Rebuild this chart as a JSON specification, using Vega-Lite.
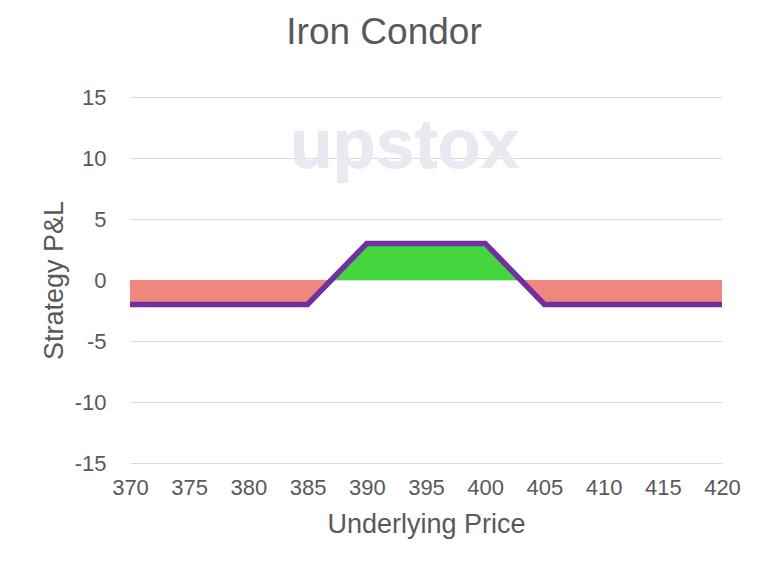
{
  "$schema": "https://vega.github.io/schema/vega-lite/v6.json",
  "width": 592,
  "height": 366,
  "autosize": {"type": "none"},
  "padding": {"left": 130, "top": 97, "right": 46, "bottom": 113},
  "background": "white",
  "config": {
    "font": "Liberation Sans",
    "view": {"stroke": null},
    "axis": {
      "domain": false,
      "ticks": false,
      "tickSize": 0,
      "grid": true,
      "gridColor": "#D9D9D9",
      "gridWidth": 1,
      "labelColor": "#595959",
      "labelFont": "Liberation Sans",
      "labelFontSize": 22,
      "labelFlush": false,
      "labelOverlap": false,
      "titleColor": "#595959",
      "titleFont": "Liberation Sans",
      "titleFontSize": 27,
      "titleFontWeight": "normal"
    }
  },
  "title": {
    "text": "Iron Condor",
    "fontSize": 37,
    "font": "Liberation Sans",
    "fontWeight": "normal",
    "color": "#595959",
    "anchor": "middle",
    "dx": -42,
    "offset": 34
  },
  "data": {
    "values": [
      {"price": 370, "pnl": -2, "profit": 0, "loss": -2},
      {"price": 375, "pnl": -2, "profit": 0, "loss": -2},
      {"price": 380, "pnl": -2, "profit": 0, "loss": -2},
      {"price": 385, "pnl": -2, "profit": 0, "loss": -2},
      {"price": 387, "pnl": 0, "profit": 0, "loss": 0},
      {"price": 390, "pnl": 3, "profit": 3, "loss": 0},
      {"price": 395, "pnl": 3, "profit": 3, "loss": 0},
      {"price": 400, "pnl": 3, "profit": 3, "loss": 0},
      {"price": 403, "pnl": 0, "profit": 0, "loss": 0},
      {"price": 405, "pnl": -2, "profit": 0, "loss": -2},
      {"price": 410, "pnl": -2, "profit": 0, "loss": -2},
      {"price": 415, "pnl": -2, "profit": 0, "loss": -2},
      {"price": 420, "pnl": -2, "profit": 0, "loss": -2}
    ]
  },
  "encoding": {
    "x": {
      "field": "price",
      "type": "quantitative",
      "scale": {"domain": [370, 420], "nice": false, "zero": false},
      "axis": {
        "values": [370, 375, 380, 385, 390, 395, 400, 405, 410, 415, 420],
        "title": "Underlying Price",
        "labelPadding": 14,
        "titlePadding": 13,
        "grid": false
      }
    }
  },
  "layer": [
    {
      "mark": {"type": "text", "fontSize": 70, "font": "Liberation Sans", "fontWeight": "bold", "color": "#EAE9F2", "opacity": 0.85, "baseline": "alphabetic", "align": "center"},
      "encoding": {
        "x": {"datum": 393.2, "type": "quantitative"},
        "y": {"datum": 9.2, "type": "quantitative"},
        "text": {"value": "upstox"}
      }
    },
    {
      "mark": {"type": "area", "color": "#F0877F", "opacity": 1},
      "encoding": {
        "y": {
          "field": "loss",
          "type": "quantitative",
          "scale": {"domain": [-15, 15], "nice": false, "zero": false},
          "axis": {
            "values": [-15, -10, -5, 0, 5, 10, 15],
            "labelExpr": "datum.value + ''",
            "title": "Strategy P&L",
            "labelPadding": 24,
            "titlePadding": 6
          }
        },
        "y2": {"datum": 0}
      }
    },
    {
      "mark": {"type": "area", "color": "#43D63F", "opacity": 1},
      "encoding": {
        "y": {"field": "profit", "type": "quantitative"},
        "y2": {"datum": 0}
      }
    },
    {
      "mark": {"type": "line", "color": "#7030A0", "strokeWidth": 5.5, "strokeJoin": "miter", "strokeCap": "butt"},
      "encoding": {
        "y": {"field": "pnl", "type": "quantitative"}
      }
    }
  ]
}
